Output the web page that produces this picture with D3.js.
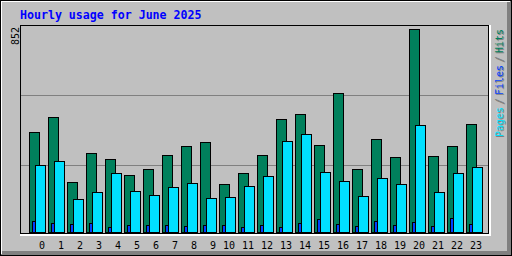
<!DOCTYPE html>
<html>
<head>
<meta charset="utf-8">
<script src="https://cdn.jsdelivr.net/npm/d3@7"></script>
<style>
  html, body { margin: 0; padding: 0; background: #c0c0c0; }
  svg { display: block; }
  text { font-family: "DejaVu Sans Mono", monospace; }
</style>
</head>
<body>
<div id="chart"></div>
<script>
// hourly stats
const hours = ["0","1","2","3","4","5","6","7","8","9","10","11","12","13","14","15","16","17","18","19","20","21","22","23"];
const hits  = [418,481,209,330,305,238,263,322,360,376,200,246,322,473,494,364,582,263,389,313,852,318,360,452];
const pages = [280,297,137,167,246,171,154,188,204,141,146,192,234,381,410,251,213,150,225,200,448,167,246,272];
const files = [45,37,32,37,20,28,28,28,24,28,28,20,28,20,37,53,32,24,45,28,41,24,57,32];
const maxLabel = "852";
const title = "Hourly usage for June 2025";

window.onload = () => {
    const width = 512;
    const height = 256;

    const hitColor = "#00805c";
    const fileColor = "#0040ff";
    const pageColor = "#00e0ff";

    const svg = d3.select("#chart")
        .append("svg")
        .attr("width", width)
        .attr("height", height)
        .attr("shape-rendering", "crispEdges");

    // outer frame with bevel
    svg.append("rect").attr("x", 0).attr("y", 0).attr("width", width).attr("height", height).attr("fill", "#c0c0c0");
    svg.append("rect").attr("x", 0.5).attr("y", 0.5).attr("width", width - 1).attr("height", height - 1)
        .attr("fill", "none").attr("stroke", "#000");
    svg.append("rect").attr("x", 1).attr("y", 251).attr("width", 510).attr("height", 4).attr("fill", "#808080");
    svg.append("rect").attr("x", 507).attr("y", 1).attr("width", 4).attr("height", 254).attr("fill", "#808080");
    svg.append("rect").attr("x", 1).attr("y", 1).attr("width", 509).attr("height", 1).attr("fill", "#fff");
    svg.append("rect").attr("x", 1).attr("y", 1).attr("width", 1).attr("height", 253).attr("fill", "#fff");

    // scales
    const x = d3.scaleLinear().domain([0, 23]).range([29, 29 + 23 * 19]);
    const y = d3.scaleLinear().domain([0, 852]).range([232, 29]);
    // grid sits at thirds of the plot box
    const grid = d3.scaleLinear().domain([0, 3]).range([235, 25]);

    // plot box
    svg.append("rect").attr("x", 20).attr("y", 234).attr("width", 471).attr("height", 2).attr("fill", "#fff");
    svg.append("rect").attr("x", 489).attr("y", 25).attr("width", 2).attr("height", 211).attr("fill", "#fff");
    svg.append("line").attr("x1", 20.5).attr("y1", 25).attr("x2", 20.5).attr("y2", 234).attr("stroke", "#000");
    svg.append("line").attr("x1", 20).attr("y1", 25.5).attr("x2", 489).attr("y2", 25.5).attr("stroke", "#000");
    svg.append("line").attr("x1", 20).attr("y1", 233.5).attr("x2", 489).attr("y2", 233.5).attr("stroke", "#000");
    svg.append("line").attr("x1", 488.5).attr("y1", 25).attr("x2", 488.5).attr("y2", 234).attr("stroke", "#000");

    svg.selectAll("line.grid")
        .data([1, 2])
        .enter()
        .append("line")
        .attr("class", "grid")
        .attr("x1", 21)
        .attr("x2", 488)
        .attr("y1", d => grid(d) + 0.5)
        .attr("y2", d => grid(d) + 0.5)
        .attr("stroke", "#808080");

    const bar = (data, dx, w, color, cls) => {
        svg.selectAll("rect." + cls)
            .data(data)
            .enter()
            .append("rect")
            .attr("class", cls)
            .attr("x", (d, i) => x(i) + dx + 0.5)
            .attr("y", d => Math.round(y(d)) + 0.5)
            .attr("width", w)
            .attr("height", d => 232 - Math.round(y(d)))
            .attr("fill", color)
            .attr("stroke", "#000");
    };
    bar(hits, 0, 10, hitColor, "hits");
    bar(pages, 6, 10, pageColor, "pages");
    bar(files, 3, 3, fileColor, "files");

    // hour labels
    svg.selectAll("text.hour")
        .data(hours)
        .enter()
        .append("text")
        .attr("class", "hour")
        .attr("x", (d, i) => x(i) + 16)
        .attr("y", 249)
        .attr("text-anchor", "end")
        .attr("font-size", 10)
        .attr("fill", "#000")
        .text(d => d);

    // title
    svg.append("text")
        .attr("x", 20)
        .attr("y", 19)
        .attr("font-size", 11.6)
        .attr("font-weight", "bold")
        .attr("fill", "#0000ff")
        .text(title);

    // max value on the left
    svg.append("text")
        .attr("transform", "translate(19,45) rotate(-90)")
        .attr("font-size", 10)
        .attr("fill", "#000")
        .text(maxLabel);

    // legend on the right, drawn with a grey shadow
    const legend = [
        { t: "Pages", y: 137, c: pageColor },
        { t: "/", y: 104, c: "#808080" },
        { t: "Files", y: 95, c: fileColor },
        { t: "/", y: 62, c: "#808080" },
        { t: "Hits", y: 53, c: hitColor }
    ];
    svg.selectAll("text.legshadow")
        .data(legend)
        .enter()
        .append("text")
        .attr("class", "legshadow")
        .attr("transform", d => `translate(504,${d.y + 1}) rotate(-90)`)
        .attr("font-size", 10)
        .attr("fill", "#808080")
        .text(d => d.t);
    svg.selectAll("text.leg")
        .data(legend)
        .enter()
        .append("text")
        .attr("class", "leg")
        .attr("transform", d => `translate(503,${d.y}) rotate(-90)`)
        .attr("font-size", 10)
        .attr("fill", d => d.c)
        .text(d => d.t);
};
</script>
</body>
</html>
